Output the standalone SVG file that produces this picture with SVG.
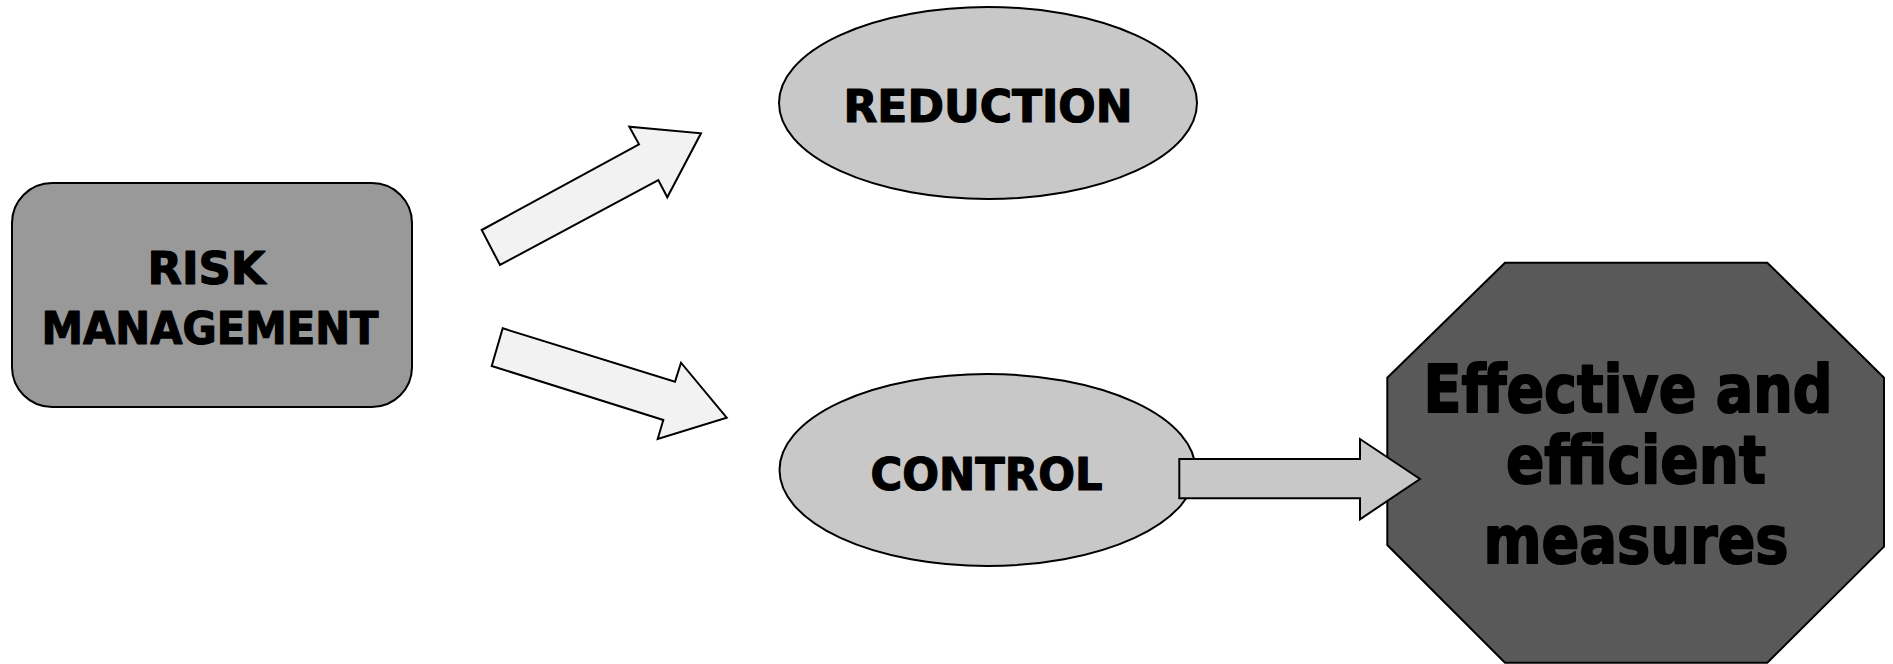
<svg xmlns="http://www.w3.org/2000/svg" width="1893" height="664" viewBox="0 0 1893 664">
<style>
.shape{stroke:#000;stroke-width:2}
.lbl{font-family:"DejaVu Sans","Liberation Sans",sans-serif;font-weight:bold;fill:#000;stroke:#000;stroke-linejoin:round;text-anchor:middle}
.mid{font-size:44px;stroke-width:1.2px}
.big{font-size:66px;stroke-width:2px}
.arrowL{fill:#f2f2f2;stroke:#000;stroke-width:2;stroke-linejoin:miter}
.arrowG{fill:#c8c8c8;stroke:#000;stroke-width:2}
</style>
<rect width="1893" height="664" fill="#fff"/>
<g id="risk-management">
<rect class="shape" x="12" y="183" width="400" height="224" rx="40" ry="40" fill="#999999"/>
<text class="lbl mid" x="206.5" y="284" textLength="118" lengthAdjust="spacingAndGlyphs">RISK</text>
<text class="lbl mid" x="210" y="343.5" textLength="337" lengthAdjust="spacingAndGlyphs">MANAGEMENT</text>
</g>
<g id="reduction">
<ellipse class="shape" cx="988" cy="103" rx="209" ry="96" fill="#c8c8c8"/>
<text class="lbl mid" x="988" y="121.5" textLength="289" lengthAdjust="spacingAndGlyphs">REDUCTION</text>
</g>
<g id="control">
<ellipse class="shape" cx="987.5" cy="470" rx="208" ry="96" fill="#c8c8c8"/>
<text class="lbl mid" x="986.5" y="490" textLength="232" lengthAdjust="spacingAndGlyphs">CONTROL</text>
</g>
<g id="measures">
<polygon class="shape" fill="#595959" points="1505,262.7 1767.3,262.7 1884,377.7 1884,546.7 1767.3,662.7 1505,662.7 1387.3,545 1387.3,377.7"/>
<text class="lbl big" x="1628" y="411.5" textLength="409" lengthAdjust="spacingAndGlyphs">Effective and</text>
<text class="lbl big" x="1636" y="483" textLength="260" lengthAdjust="spacingAndGlyphs">efficient</text>
<text class="lbl big" x="1636" y="563" textLength="305" lengthAdjust="spacingAndGlyphs">measures</text>
</g>
<g id="connectors">
<polygon class="arrowL" points="481.7,230 639,144.3 629.3,126.7 701,133.3 667.3,197.3 658.3,180 500,265"/>
<polygon class="arrowL" points="502.7,328.3 675,381.7 681,362.7 726.7,417.7 657.7,439 663.3,420 491.7,366"/>
<polygon class="arrowG" points="1179.3,459 1360,459 1360,439 1420,479 1360,519.3 1360,498.3 1179.3,498.3"/>
</g>
</svg>
